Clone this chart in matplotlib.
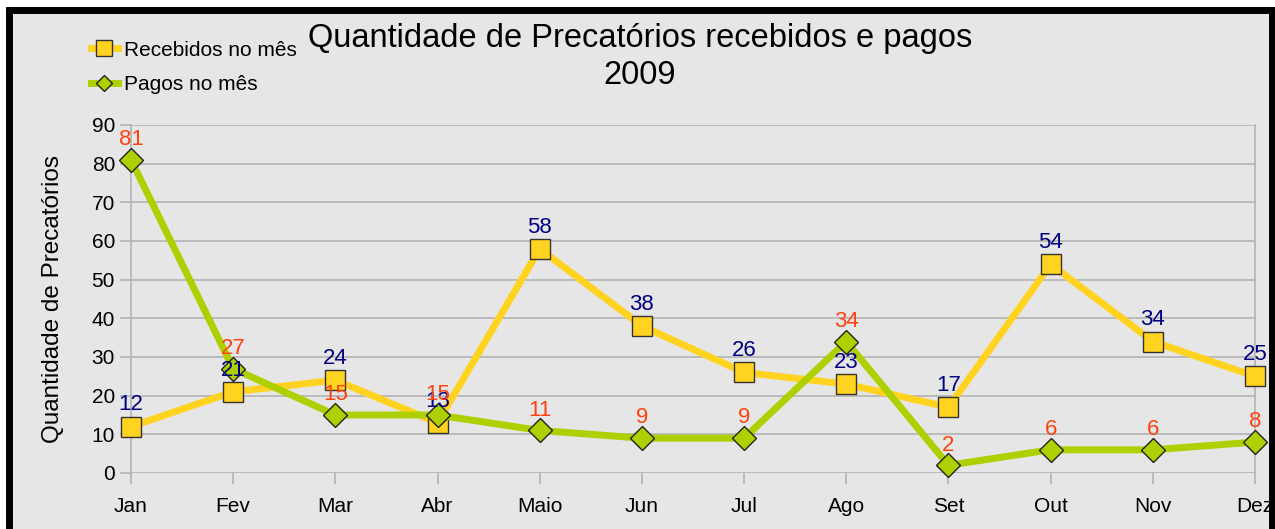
import matplotlib
matplotlib.use("Agg")
import matplotlib.pyplot as plt
from matplotlib.patches import Rectangle
from matplotlib.lines import Line2D

plt.rcParams['font.family'] = ['Liberation Sans', 'DejaVu Sans']

months = ["Jan", "Fev", "Mar", "Abr", "Maio", "Jun", "Jul", "Ago", "Set", "Out", "Nov", "Dez"]
recebidos = [12, 21, 24, 13, 58, 38, 26, 23, 17, 54, 34, 25]
pagos = [81, 27, 15, 15, 11, 9, 9, 34, 2, 6, 6, 8]
yticks = list(range(0, 91, 10))

bg = "#e6e6e6"
yellow = "#ffd320"
green = "#aecf00"
blue_lbl = "#000080"
red_lbl = "#ff420e"

W, H = 1275, 529
fig = plt.figure(figsize=(W / 100, H / 100), dpi=100)
fig.patch.set_facecolor("white")

# outer frame: grey panel with a thick black border (bottom is cut off)
fig.patches.append(Rectangle((8.5 / W, -0.05), (1272 - 8.5) / W, (H - 9.5) / H + 0.05,
                             transform=fig.transFigure, facecolor=bg,
                             edgecolor="black", linewidth=5, zorder=-10))

ax = fig.add_axes([131 / W, 1 - 473 / H, (1255 - 131) / W, (473 - 125) / H])
ax.set_facecolor(bg)
x = list(range(len(months)))

ax.plot(x, recebidos, color=yellow, lw=5, marker="s", ms=15,
        mfc=yellow, mec="#333333", mew=1, zorder=3, clip_on=False,
        label="Recebidos no mês")
ax.plot(x, pagos, color=green, lw=5, marker="D", ms=12,
        mfc=green, mec="#222222", mew=1, zorder=3, clip_on=False,
        label="Pagos no mês")

for xi, v in zip(x, recebidos):
    ax.annotate(str(v), (xi, v), xytext=(0, 8), textcoords="offset points",
                ha="center", va="bottom", color=blue_lbl, fontsize=16, zorder=5)
for xi, v in zip(x, pagos):
    ax.annotate(str(v), (xi, v), xytext=(0, 7), textcoords="offset points",
                ha="center", va="bottom", color=red_lbl, fontsize=16, zorder=5)

ax.set_xlim(0, len(months) - 1)
ax.set_ylim(0, 90)
ax.set_yticks(yticks)
ax.set_xticks(x)
ax.set_xticklabels(months)
ax.grid(axis="y", color="#b3b3b3", lw=1.2)
ax.set_axisbelow(True)
for side in ["top", "bottom"]:
    ax.spines[side].set_visible(False)
for side in ["left", "right"]:
    ax.spines[side].set_color("#b3b3b3")
    ax.spines[side].set_linewidth(1.2)
ax.tick_params(axis="both", colors="#b3b3b3", labelcolor="black", labelsize=15,
               length=8, width=1.2)
ax.tick_params(axis="x", pad=9)
ax.set_ylabel("Quantidade de Precatórios", fontsize=17.5, labelpad=20)

fig.text(640 / W, 1 - 57 / H, "Quantidade de Precatórios recebidos e pagos\n2009",
         ha="center", va="center", fontsize=23.5, linespacing=1.28)

handles = [
    Line2D([], [], color=yellow, lw=5, marker="s", ms=11, mfc=yellow, mec="#333333"),
    Line2D([], [], color=green, lw=5, marker="D", ms=8, mfc=green, mec="#222222"),
]
fig.legend(handles, ["Recebidos no mês", "Pagos no mês"], loc="upper left",
           bbox_to_anchor=(72 / W, 1 - 22 / H), frameon=False, fontsize=15,
           handlelength=1.3, handletextpad=0.3, labelspacing=0.75)

fig.savefig("out.png", dpi=100, facecolor=fig.get_facecolor())
